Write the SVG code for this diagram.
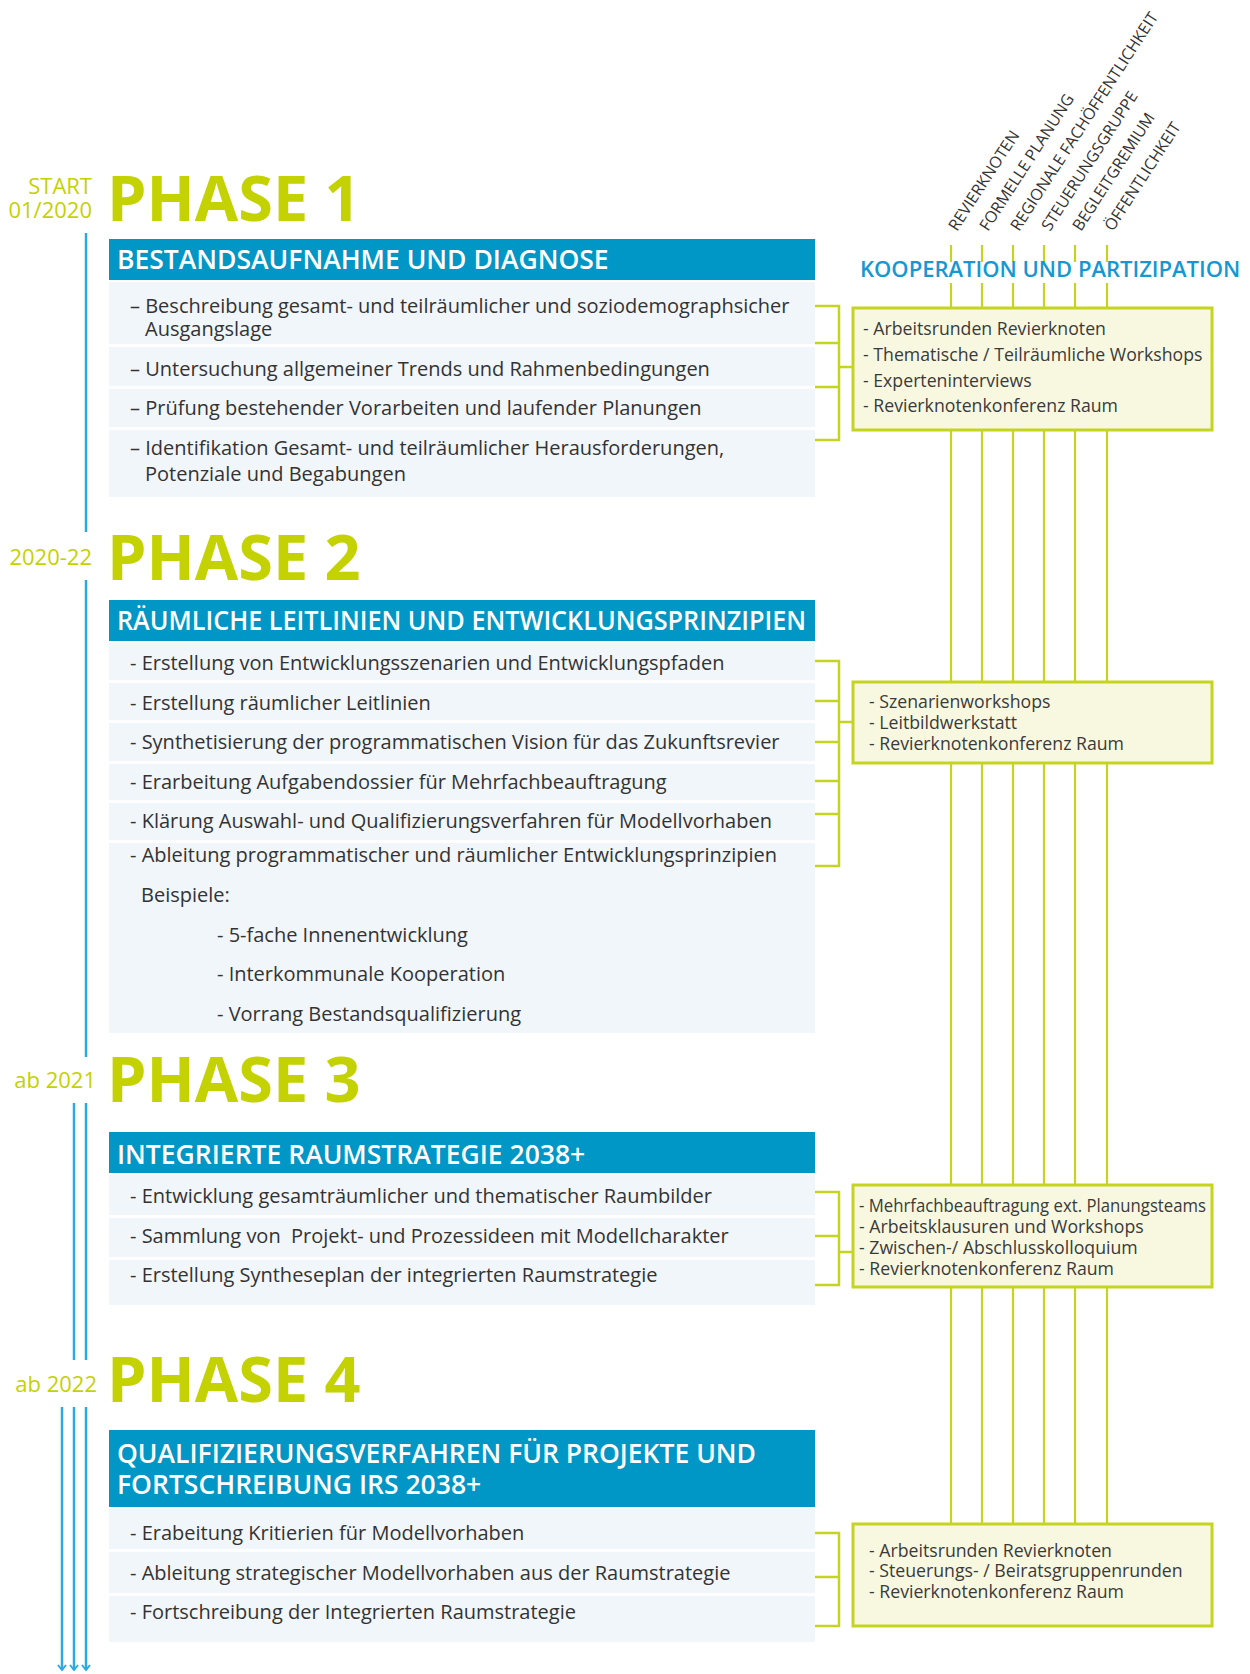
<svg xmlns="http://www.w3.org/2000/svg" width="1250" height="1674" viewBox="0 0 1250 1674">
<defs>
<style>
.date{font-family:"Open Sans","Liberation Sans",sans-serif;font-size:22px;fill:#c3d200;text-anchor:end}
.phase{font-family:"Open Sans","Liberation Sans",sans-serif;font-size:63px;font-weight:700;fill:#c3d200}
.hdr{fill:#0096c6}
.htxt{font-family:"Open Sans","Liberation Sans",sans-serif;font-size:26.5px;font-weight:600;fill:#ffffff}
.row{fill:#f1f6fb}
.body{font-family:"Open Sans","Liberation Sans",sans-serif;font-size:20px;fill:#333333}
.box{fill:#f8f8e1;stroke:#c5d41e;stroke-width:3}
.btxt{font-family:"Open Sans","Liberation Sans",sans-serif;font-size:17.7px;fill:#3a3a3a}
.brk{fill:none;stroke:#c5d41e;stroke-width:2.5}
.vl{stroke:#c5d41e;stroke-width:2.2}
.tl{stroke:#29abe2;stroke-width:2.5;fill:none}
.rot{font-family:"Open Sans","Liberation Sans",sans-serif;font-size:16px;fill:#333333}
.koop{font-family:"Open Sans","Liberation Sans",sans-serif;font-size:22px;font-weight:600;fill:#1598d2}
</style>
<marker id="arr" markerWidth="12" markerHeight="12" viewBox="-7 -6 12 12" refX="0" refY="0" orient="auto" markerUnits="userSpaceOnUse">
<path d="M-5,-4 L0,0 L-5,4" fill="none" stroke="#29abe2" stroke-width="2"/>
</marker>
</defs>
<rect x="0" y="0" width="1250" height="1674" fill="#ffffff"/>

<g id="connectors">
<line class="tl" x1="86" y1="233" x2="86" y2="532"/>
<line class="tl" x1="86" y1="580" x2="86" y2="1057"/>
<line class="tl" x1="86" y1="1103" x2="86" y2="1360"/>
<line class="tl" x1="74" y1="1103" x2="74" y2="1360"/>
<line class="tl" x1="86" y1="1407" x2="86" y2="1670" marker-end="url(#arr)"/>
<line class="tl" x1="74" y1="1407" x2="74" y2="1670" marker-end="url(#arr)"/>
<line class="tl" x1="62" y1="1407" x2="62" y2="1670" marker-end="url(#arr)"/>
<g class="vl">
<line x1="951" y1="245" x2="951" y2="262"/><line x1="951" y1="283" x2="951" y2="1524"/>
<line x1="982" y1="245" x2="982" y2="262"/><line x1="982" y1="283" x2="982" y2="1524"/>
<line x1="1013" y1="245" x2="1013" y2="262"/><line x1="1013" y1="283" x2="1013" y2="1524"/>
<line x1="1044" y1="245" x2="1044" y2="262"/><line x1="1044" y1="283" x2="1044" y2="1524"/>
<line x1="1075" y1="245" x2="1075" y2="262"/><line x1="1075" y1="283" x2="1075" y2="1524"/>
<line x1="1107" y1="245" x2="1107" y2="262"/><line x1="1107" y1="283" x2="1107" y2="1524"/>
</g>
<path class="brk" d="M815,306 H839 V440 H815 M815,343 H839 M815,387 H839 M839,367 H853"/>
<path class="brk" d="M815,661 H839 V866 H815 M815,701 H839 M815,742 H839 M815,781 H839 M815,814 H839 M839,722 H853"/>
<path class="brk" d="M815,1192 H839 V1285 H815 M815,1236 H839 M839,1252 H853"/>
<path class="brk" d="M815,1533 H839 V1626 H815 M815,1577 H839"/>
</g>

<g id="labels-participation">
<text class="rot" transform="translate(957,232) rotate(-57)">REVIERKNOTEN</text>
<text class="rot" transform="translate(988,232) rotate(-57)">FORMELLE PLANUNG</text>
<text class="rot" transform="translate(1019,232) rotate(-57)">REGIONALE FACHÖFFENTLICHKEIT</text>
<text class="rot" transform="translate(1050,232) rotate(-57)">STEUERUNGSGRUPPE</text>
<text class="rot" transform="translate(1081,232) rotate(-57)">BEGLEITGREMIUM</text>
<text class="rot" transform="translate(1113,232) rotate(-57)">ÖFFENTLICHKEIT</text>
<text class="koop" x="860" y="277">KOOPERATION UND PARTIZIPATION</text>
</g>

<g id="phase1">
<text class="date" x="92" y="194">START</text>
<text class="date" x="92" y="218">01/2020</text>
<text class="phase" x="107" y="221">PHASE 1</text>
<rect class="hdr" x="109" y="239" width="706" height="41"/>
<text class="htxt" x="117" y="269">BESTANDSAUFNAHME UND DIAGNOSE</text>
<rect class="row" x="109" y="282" width="706" height="62"/>
<rect class="row" x="109" y="347" width="706" height="39"/>
<rect class="row" x="109" y="389" width="706" height="38"/>
<rect class="row" x="109" y="430" width="706" height="67"/>
<text class="body" x="130" y="313">– Beschreibung gesamt- und teilräumlicher und soziodemographsicher</text>
<text class="body" x="145" y="336">Ausgangslage</text>
<text class="body" x="130" y="376">– Untersuchung allgemeiner Trends und Rahmenbedingungen</text>
<text class="body" x="130" y="415">– Prüfung bestehender Vorarbeiten und laufender Planungen</text>
<text class="body" x="130" y="455">– Identifikation Gesamt- und teilräumlicher Herausforderungen,</text>
<text class="body" x="145" y="481">Potenziale und Begabungen</text>
</g>
<g id="box1">
<rect class="box" x="853" y="308" width="359" height="122"/>
<text class="btxt" x="863" y="335">- Arbeitsrunden Revierknoten</text>
<text class="btxt" x="863" y="361">- Thematische / Teilräumliche Workshops</text>
<text class="btxt" x="863" y="387">- Experteninterviews</text>
<text class="btxt" x="863" y="412">- Revierknotenkonferenz Raum</text>
</g>

<g id="phase2">
<text class="date" x="92" y="565">2020-22</text>
<text class="phase" x="107" y="580">PHASE 2</text>
<rect class="hdr" x="109" y="600" width="706" height="41"/>
<text class="htxt" x="117" y="630" textLength="689" lengthAdjust="spacingAndGlyphs">RÄUMLICHE LEITLINIEN UND ENTWICKLUNGSPRINZIPIEN</text>
<rect class="row" x="109" y="643" width="706" height="37"/>
<rect class="row" x="109" y="683" width="706" height="37"/>
<rect class="row" x="109" y="723" width="706" height="38"/>
<rect class="row" x="109" y="764" width="706" height="36"/>
<rect class="row" x="109" y="803" width="706" height="37"/>
<rect class="row" x="109" y="843" width="706" height="190"/>
<text class="body" x="130" y="670">- Erstellung von Entwicklungsszenarien und Entwicklungspfaden</text>
<text class="body" x="130" y="710">- Erstellung räumlicher Leitlinien</text>
<text class="body" x="130" y="749">- Synthetisierung der programmatischen Vision für das Zukunftsrevier</text>
<text class="body" x="130" y="789">- Erarbeitung Aufgabendossier für Mehrfachbeauftragung</text>
<text class="body" x="130" y="828">- Klärung Auswahl- und Qualifizierungsverfahren für Modellvorhaben</text>
<text class="body" x="130" y="862">- Ableitung programmatischer und räumlicher Entwicklungsprinzipien</text>
<text class="body" x="141" y="902">Beispiele:</text>
<text class="body" x="217" y="942">- 5-fache Innenentwicklung</text>
<text class="body" x="217" y="981">- Interkommunale Kooperation</text>
<text class="body" x="217" y="1021">- Vorrang Bestandsqualifizierung</text>
</g>
<g id="box2">
<rect class="box" x="853" y="682" width="359" height="81"/>
<text class="btxt" x="869" y="708">- Szenarienworkshops</text>
<text class="btxt" x="869" y="729">- Leitbildwerkstatt</text>
<text class="btxt" x="869" y="750">- Revierknotenkonferenz Raum</text>
</g>

<g id="phase3">
<text class="date" x="96" y="1088">ab 2021</text>
<text class="phase" x="107" y="1102">PHASE 3</text>
<rect class="hdr" x="109" y="1132" width="706" height="41"/>
<text class="htxt" x="117" y="1164">INTEGRIERTE RAUMSTRATEGIE 2038+</text>
<rect class="row" x="109" y="1175" width="706" height="40"/>
<rect class="row" x="109" y="1218" width="706" height="39"/>
<rect class="row" x="109" y="1260" width="706" height="45"/>
<text class="body" x="130" y="1203">- Entwicklung gesamträumlicher und thematischer Raumbilder</text>
<text class="body" x="130" y="1243" xml:space="preserve">- Sammlung von  Projekt- und Prozessideen mit Modellcharakter</text>
<text class="body" x="130" y="1282">- Erstellung Syntheseplan der integrierten Raumstrategie</text>
</g>
<g id="box3">
<rect class="box" x="853" y="1185" width="359" height="102"/>
<text class="btxt" x="859" y="1212" textLength="347" lengthAdjust="spacingAndGlyphs">- Mehrfachbeauftragung ext. Planungsteams</text>
<text class="btxt" x="859" y="1233">- Arbeitsklausuren und Workshops</text>
<text class="btxt" x="859" y="1254">- Zwischen-/ Abschlusskolloquium</text>
<text class="btxt" x="859" y="1275">- Revierknotenkonferenz Raum</text>
</g>

<g id="phase4">
<text class="date" x="97" y="1392">ab 2022</text>
<text class="phase" x="107" y="1402">PHASE 4</text>
<rect class="hdr" x="109" y="1430" width="706" height="77"/>
<text class="htxt" x="117" y="1463">QUALIFIZIERUNGSVERFAHREN FÜR PROJEKTE UND</text>
<text class="htxt" x="117" y="1494">FORTSCHREIBUNG IRS 2038+</text>
<rect class="row" x="109" y="1509" width="706" height="40"/>
<rect class="row" x="109" y="1552" width="706" height="41"/>
<rect class="row" x="109" y="1596" width="706" height="46"/>
<text class="body" x="130" y="1540">- Erabeitung Kritierien für Modellvorhaben</text>
<text class="body" x="130" y="1580">- Ableitung strategischer Modellvorhaben aus der Raumstrategie</text>
<text class="body" x="130" y="1619">- Fortschreibung der Integrierten Raumstrategie</text>
</g>
<g id="box4">
<rect class="box" x="853" y="1524" width="359" height="102"/>
<text class="btxt" x="869" y="1557">- Arbeitsrunden Revierknoten</text>
<text class="btxt" x="869" y="1577">- Steuerungs- / Beiratsgruppenrunden</text>
<text class="btxt" x="869" y="1598">- Revierknotenkonferenz Raum</text>
</g>
</svg>
